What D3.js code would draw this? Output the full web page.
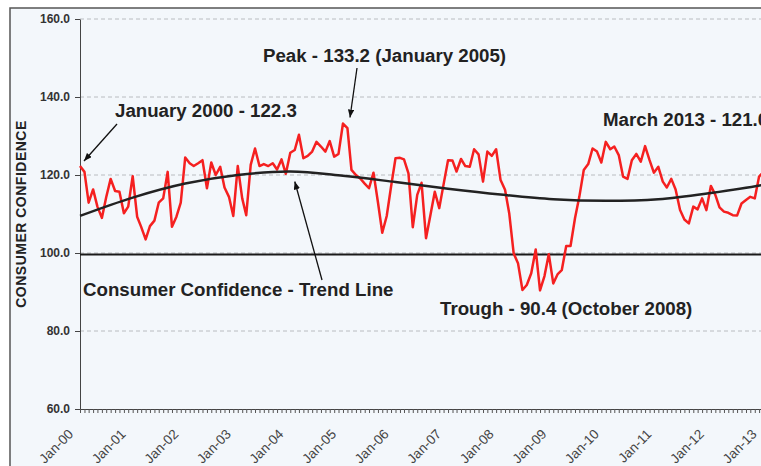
<!DOCTYPE html>
<html>
<head>
<meta charset="utf-8">
<script src="https://cdn.jsdelivr.net/npm/d3@7"></script>
<style>
  body { margin: 0; background: #fff; }
  svg { display: block; font-family: "Liberation Sans", Arial, sans-serif; }
</style>
</head>
<body>
<svg id="chart" width="761" height="466"></svg>
<script>
// monthly consumer confidence, Jan 2000 .. Mar 2013
const confidence = [
  122.3, 120.8, 112.9, 116.3, 111.9, 109.0, 114.3, 119.0, 115.9, 115.7, 110.2, 111.9, // 2000
  119.7, 109.3, 106.7, 103.5, 106.9, 108.3, 112.9, 114.0, 120.8, 106.7, 109.3, 112.9, // 2001
  124.5, 123.0, 122.3, 123.0, 123.8, 116.6, 123.2, 120.0, 122.1, 116.8, 114.4, 109.5, // 2002
  122.3, 114.0, 109.7, 122.6, 126.8, 122.3, 122.8, 122.3, 123.0, 121.4, 124.0, 120.3, // 2003
  125.7, 126.4, 130.3, 124.3, 124.9, 126.0, 128.5, 127.3, 126.0, 128.7, 124.7, 125.4, // 2004
  133.2, 132.0, 121.3, 120.0, 119.1, 117.8, 116.6, 120.6, 113.0, 105.2, 109.5, 117.0, // 2005
  124.3, 124.4, 124.0, 120.4, 106.6, 114.9, 118.0, 103.8, 109.8, 115.7, 111.5, 117.6, // 2006
  123.8, 123.7, 120.9, 124.1, 122.3, 122.1, 126.6, 125.3, 118.3, 126.0, 124.9, 126.6, // 2007
  118.7, 116.2, 110.2, 99.9, 97.4, 90.5, 91.8, 94.8, 100.9, 90.4, 94.1, 99.7,         // 2008
  92.2, 94.6, 95.6, 101.8, 101.8, 108.9, 114.4, 121.3, 122.8, 126.8, 126.0, 123.2,    // 2009
  128.5, 126.6, 127.3, 125.1, 119.6, 119.0, 123.8, 125.4, 123.4, 127.4, 123.8, 120.6, // 2010
  122.1, 118.3, 116.8, 119.0, 116.3, 111.0, 108.6, 107.6, 111.9, 111.2, 114.0, 111.0, // 2011
  117.2, 114.9, 111.7, 110.6, 110.3, 109.7, 109.6, 112.7, 113.6, 114.4, 114.0, 119.6, // 2012
  120.8, 122.0, 121.0                                                                 // 2013
];

// trend line read at each January (month index from Jan 2000)
const trendMonths = [0, 12, 24, 36, 48, 60, 72, 84, 96, 108, 120, 132, 144, 156, 158];
const trendValues = [109.5, 114.2, 117.8, 120.0, 120.9, 119.8, 118.2, 116.5, 115.0, 113.8, 113.4, 113.8, 115.4, 117.5, 118.0];

const yTicks = [60, 80, 100, 120, 140, 160];
const neutralLevel = 99.6;

const startMonth = new Date(2000, 0, 1);
const months = confidence.map((_, i) => d3.timeMonth.offset(startMonth, i));

const svg = d3.select("#chart");

// frame
svg.append("rect")
    .attr("x", 10)
    .attr("y", 8)
    .attr("width", 820)
    .attr("height", 520)
    .attr("fill", "#f3f7fb")
    .attr("stroke", "#555")
    .attr("stroke-width", 1.5);

const x = d3.scaleTime()
    .domain([months[0], months[months.length - 1]])
    .range([80, 80 + 158 * 4.38]);

const y = d3.scaleLinear()
    .domain([60, 160])
    .range([409, 19]);

// gridlines
svg.append("g")
    .selectAll("line")
    .data(yTicks.slice(1))
    .join("line")
    .attr("x1", 80)
    .attr("x2", 761)
    .attr("y1", d => y(d))
    .attr("y2", d => y(d))
    .attr("stroke", "#b9bcc0")
    .attr("stroke-width", 1)
    .attr("stroke-dasharray", "4,3");

// y axis
const yAxis = svg.append("g")
    .attr("transform", "translate(80,0)")
    .call(d3.axisLeft(y).tickValues(yTicks).tickFormat(d3.format(".1f")).tickSize(5).tickSizeOuter(0));
yAxis.select(".domain").attr("stroke", "#444");
yAxis.selectAll(".tick line").attr("stroke", "#444");
yAxis.selectAll("text")
    .attr("font-family", "Liberation Sans, Arial, sans-serif")
    .attr("font-size", 12)
    .attr("font-weight", "bold")
    .attr("fill", "#333")
    .attr("dx", -2);

svg.append("text")
    .attr("transform", `translate(26,${y(110)}) rotate(-90)`)
    .attr("text-anchor", "middle")
    .attr("font-size", 14)
    .attr("letter-spacing", 0.5)
    .attr("font-weight", "bold")
    .attr("fill", "#222")
    .text("CONSUMER CONFIDENCE");

// x axis with monthly minor ticks
const xAxis = svg.append("g")
    .attr("transform", "translate(0,409)")
    .call(d3.axisBottom(x).ticks(d3.timeMonth.every(1)).tickFormat("").tickSize(4).tickSizeOuter(0));
xAxis.select(".domain").attr("stroke", "#444");
xAxis.selectAll(".tick line").attr("stroke", "#555");

const years = months.filter(d => d.getMonth() === 0);
svg.append("g")
    .selectAll("text")
    .data(years)
    .join("text")
    .attr("transform", d => `translate(${x(d) - 6},435) rotate(-45)`)
    .attr("text-anchor", "end")
    .attr("font-size", 13.5)
    .attr("fill", "#444")
    .text(d3.timeFormat("%b-%y"));

// neutral reference line
svg.append("line")
    .attr("x1", 80)
    .attr("x2", 761)
    .attr("y1", y(neutralLevel))
    .attr("y2", y(neutralLevel))
    .attr("stroke", "#1a1a1a")
    .attr("stroke-width", 2);

// confidence line
const line = d3.line()
    .x((d, i) => x(months[i]))
    .y(d => y(d));

svg.append("path")
    .datum(confidence)
    .attr("fill", "none")
    .attr("stroke", "#f52020")
    .attr("stroke-width", 2.5)
    .attr("stroke-linejoin", "round")
    .attr("d", line);

// trend line
const trendLine = d3.line()
    .x((d, i) => x(months[trendMonths[i]]))
    .y(d => y(d))
    .curve(d3.curveCatmullRom);

svg.append("path")
    .datum(trendValues)
    .attr("fill", "none")
    .attr("stroke", "#222")
    .attr("stroke-width", 2.5)
    .attr("d", trendLine);

// annotations
const defs = svg.append("defs");
defs.append("marker")
    .attr("id", "arrow")
    .attr("viewBox", "0 0 10 8")
    .attr("refX", 10)
    .attr("refY", 4)
    .attr("markerWidth", 8)
    .attr("markerHeight", 6.5)
    .attr("markerUnits", "userSpaceOnUse")
    .attr("orient", "auto")
    .append("path")
    .attr("d", "M0,0L10,4L0,8z")
    .attr("fill", "#111");

function note(txt, tx, ty) {
    svg.append("text")
        .attr("x", tx)
        .attr("y", ty)
        .attr("font-size", 18.7)
        .attr("font-weight", "bold")
        .attr("fill", "#222")
        .text(txt);
}

function arrow(x1, y1, x2, y2) {
    svg.append("line")
        .attr("x1", x1)
        .attr("y1", y1)
        .attr("x2", x2)
        .attr("y2", y2)
        .attr("stroke", "#111")
        .attr("stroke-width", 1.3)
        .attr("marker-end", "url(#arrow)");
}

note("Peak - 133.2 (January 2005)", 263, 62);
arrow(357, 68, x(months[60]) + 7, y(confidence[60]) - 6);

note("January 2000 - 122.3", 115, 117);
arrow(117, 124, x(months[0]) + 4, y(confidence[0]) - 5);

note("March 2013 - 121.0", 603, 126);

note("Consumer Confidence - Trend Line", 83, 296);
arrow(322, 280, x(months[49]), y(trendValues[4]) + 10);

note("Trough - 90.4 (October 2008)", 440, 315);
</script>
</body>
</html>
